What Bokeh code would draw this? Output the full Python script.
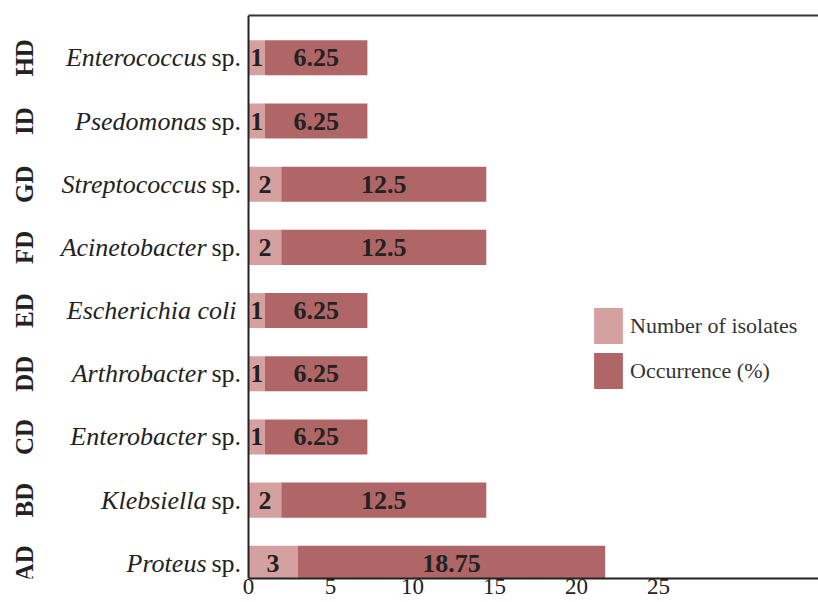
from bokeh.plotting import figure
from bokeh.models import (ColumnDataSource, Range1d, LinearAxis, FixedTicker,
                          Legend, Span)
from bokeh.core.properties import value
from bokeh.embed import file_html
from bokeh.resources import INLINE

# ---- data (bottom to top) ----
groups = ["AD", "BD", "CD", "DD", "ED", "FD", "GD", "ID", "HD"]
species = ["Proteus", "Klebsiella", "Enterobacter", "Arthrobacter",
           "Escherichia coli", "Acinetobacter", "Streptococcus",
           "Psedomonas", "Enterococcus"]
suffix = [" sp.", " sp.", " sp.", " sp.", "", " sp.", " sp.", " sp.", " sp."]
isolates = [3, 2, 1, 1, 1, 2, 2, 1, 1]
occurrence = [18.75, 12.5, 6.25, 6.25, 6.25, 12.5, 12.5, 6.25, 6.25]
x_ticks = [0, 5, 10, 15, 20, 25]
series_names = ["Number of isolates", "Occurrence (%)"]

C_LIGHT = "#d5a1a0"
C_DARK = "#b06666"
TXT = "#222222"
SERIF = "Liberation Serif"

# layout (pixels)
W, H = 818, 602
AXIS_LEFT_PX = 248
PX_PER_UNIT = 16.4
X_MIN = -AXIS_LEFT_PX / PX_PER_UNIT
X_MAX = (W - AXIS_LEFT_PX) / PX_PER_UNIT

def px(offset):
    """pixel offset from the value axis -> data units"""
    return offset / PX_PER_UNIT

ypos = list(range(len(groups)))
src = ColumnDataSource(dict(
    y=ypos,
    isolates=isolates,
    occurrence=occurrence,
    iso_lbl=[str(v) for v in isolates],
    occ_lbl=[("%g" % v) for v in occurrence],
    iso_mid=[v / 2 for v in isolates],
    occ_mid=[a + b / 2 for a, b in zip(isolates, occurrence)],
    group=groups,
    name=species,
    suf=suffix,
    name_x=[px(-42) if s else px(-12) for s in suffix],
    suf_x=[px(-37)] * len(groups),
    grp_x=[px(-224)] * len(groups),
))

p = figure(width=W, height=H, output_backend="svg", toolbar_location=None,
           x_range=Range1d(X_MIN, X_MAX), y_range=Range1d(-0.24, 8.67),
           x_axis_location=None, y_axis_location=None,
           min_border_left=0, min_border_right=0, min_border_top=15,
           min_border_bottom=24)
p.outline_line_color = None
p.xgrid.visible = False
p.ygrid.visible = False
p.background_fill_color = "white"

renderers = p.hbar_stack(["isolates", "occurrence"], y="y", height=0.555,
                         color=[C_LIGHT, C_DARK], line_color=None, source=src)

# bottom axis
xa = LinearAxis(ticker=FixedTicker(ticks=x_ticks), bounds=(0, X_MAX),
                axis_line_width=2, axis_line_color="#222222",
                major_tick_line_color=None, minor_tick_line_color=None,
                major_tick_out=0, major_tick_in=0, major_label_standoff=0,
                major_label_text_font=SERIF, major_label_text_font_size="23px",
                major_label_text_color=TXT)
p.add_layout(xa, "below")
# top line only
ta = LinearAxis(ticker=FixedTicker(ticks=[]), bounds=(0, X_MAX),
                axis_line_width=2, axis_line_color="#333333",
                major_tick_line_color=None, minor_tick_line_color=None,
                major_label_text_font_size="0px")
p.add_layout(ta, "above")
# left axis line
p.add_layout(Span(location=0, dimension="height", line_color="#222222",
                  line_width=2))

# values inside bars
p.text(x="iso_mid", y="y", text="iso_lbl", source=src, text_align="center",
       text_baseline="middle", text_font=value(SERIF), text_font_style="bold",
       text_font_size="26px", text_color=TXT)
p.text(x="occ_mid", y="y", text="occ_lbl", source=src, text_align="center",
       text_baseline="middle", text_font=value(SERIF), text_font_style="bold",
       text_font_size="26px", text_color=TXT)

# species names (italic) and " sp." (roman)
p.text(x="name_x", y="y", text="name", source=src, text_align="right",
       text_baseline="middle", text_font=value(SERIF),
       text_font_style="italic", text_font_size="26px", text_color=TXT)
p.text(x="suf_x", y="y", text="suf", source=src, text_align="left",
       text_baseline="middle", text_font=value(SERIF),
       text_font_size="26px", text_color=TXT)
# group codes, rotated
p.text(x="grp_x", y="y", text="group", source=src, angle=1.5708,
       text_align="center", text_baseline="middle", text_font=value(SERIF),
       text_font_style="bold", text_font_size="25px", text_color=TXT)

legend = Legend(items=[(series_names[0], [renderers[0]]),
                       (series_names[1], [renderers[1]])],
                location=(590, 185), orientation="vertical",
                glyph_width=36, glyph_height=45, spacing=0, padding=0,
                margin=0, label_standoff=4, label_text_font=SERIF,
                label_text_font_size="22px", label_text_color="#333333",
                border_line_color=None, background_fill_alpha=0)
p.add_layout(legend)

open("out.html", "w").write(file_html(p, INLINE))
